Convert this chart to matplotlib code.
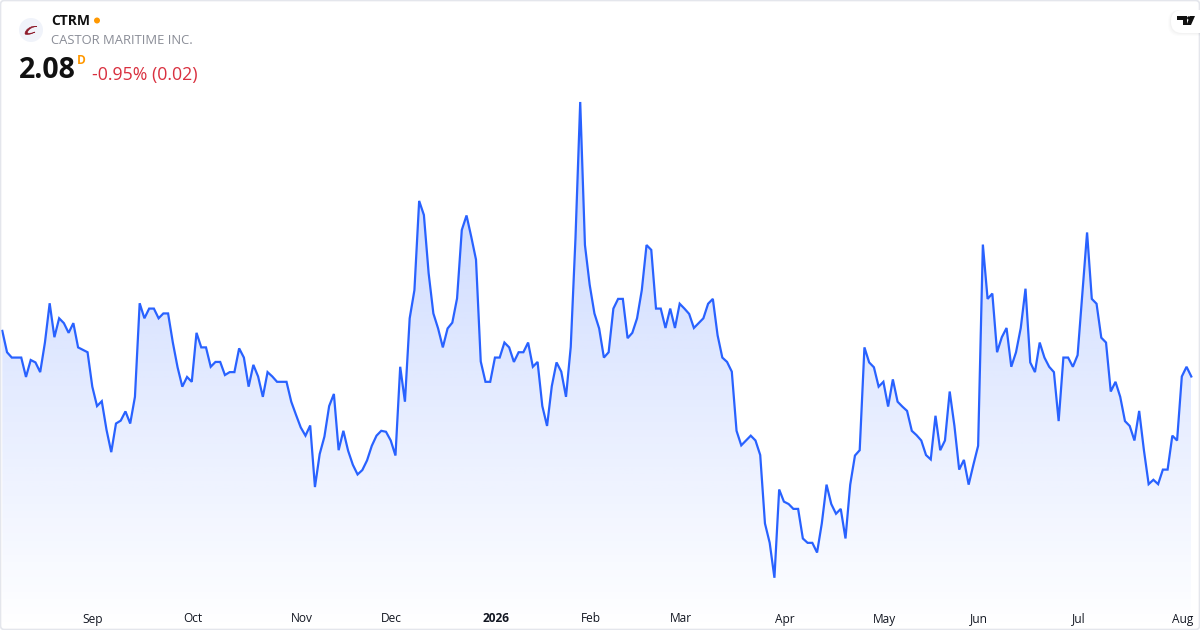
import numpy as np
import matplotlib
matplotlib.use('Agg')
import matplotlib.pyplot as plt
from matplotlib.patches import Circle, FancyBboxPatch, PathPatch, Polygon
from matplotlib.path import Path

plt.rcParams['font.family'] = ['Open Sans', 'DejaVu Sans']

symbol = 'CTRM'
company = 'CASTOR MARITIME INC.'
last_price = '2.08'
change_text = '-0.95% (0.02)'

# daily closes
close = [
    2.173, 2.129, 2.118, 2.118, 2.118, 2.078, 2.113, 2.108, 2.088, 2.149,
    2.230, 2.160, 2.199, 2.189, 2.169, 2.189, 2.139, 2.134, 2.129, 2.058,
    2.018, 2.028, 1.969, 1.923, 1.982, 1.988, 2.007, 1.982, 2.037, 2.230,
    2.199, 2.219, 2.219, 2.199, 2.209, 2.209, 2.149, 2.098, 2.058, 2.078,
    2.068, 2.169, 2.139, 2.139, 2.099, 2.109, 2.109, 2.082, 2.088, 2.088,
    2.137, 2.118, 2.058, 2.103, 2.079, 2.037, 2.088, 2.079, 2.068, 2.068,
    2.068, 2.027, 2.000, 1.974, 1.957, 1.978, 1.851, 1.919, 1.955, 2.018,
    2.043, 1.927, 1.967, 1.926, 1.897, 1.877, 1.886, 1.906, 1.936, 1.957,
    1.967, 1.965, 1.947, 1.916,
    2.099, 2.027, 2.199, 2.257, 2.441, 2.412, 2.292, 2.209, 2.178, 2.139,
    2.178, 2.190, 2.240, 2.381, 2.411, 2.367, 2.320, 2.110, 2.068, 2.068,
    2.118, 2.118, 2.149, 2.139, 2.109, 2.129, 2.129, 2.149, 2.099, 2.109,
    2.018, 1.977, 2.059, 2.108, 2.089, 2.037, 2.140, 2.364, 2.645, 2.350,
    2.268, 2.209, 2.178, 2.118, 2.129, 2.219, 2.239, 2.239, 2.158, 2.169,
    2.199, 2.257, 2.350, 2.340, 2.219, 2.219, 2.179, 2.219, 2.179, 2.229,
    2.219, 2.208, 2.179, 2.189, 2.199, 2.229, 2.239, 2.164, 2.118, 2.109,
    2.089, 1.967, 1.937, 1.947, 1.957, 1.947, 1.917,
    1.776, 1.736, 1.664, 1.846, 1.821, 1.816, 1.806, 1.806, 1.745, 1.736,
    1.736, 1.716, 1.776, 1.856, 1.816, 1.796, 1.806, 1.745, 1.856, 1.916,
    1.927, 2.139, 2.108, 2.098, 2.058, 2.068, 2.017, 2.073, 2.027, 2.017,
    2.008, 1.967, 1.958, 1.947, 1.917, 1.908, 1.998, 1.927, 1.947, 2.048,
    1.977, 1.887, 1.907, 1.856,
    1.897, 1.936, 2.351, 2.239, 2.250, 2.129, 2.160, 2.179, 2.099, 2.129,
    2.179, 2.260, 2.108, 2.088, 2.149, 2.118, 2.099, 2.088, 1.987, 2.118,
    2.118, 2.099, 2.123, 2.249, 2.376, 2.239, 2.229, 2.159, 2.149, 2.048,
    2.068, 2.037, 1.987, 1.977, 1.947, 2.008, 1.927, 1.857, 1.866, 1.857,
    1.887, 1.887, 1.957, 1.947, 2.079, 2.099, 2.079,
]
month_labels = ['Sep', 'Oct', 'Nov', 'Dec', '2026', 'Feb', 'Mar', 'Apr', 'May', 'Jun', 'Jul', 'Aug']
month_pos = [19, 40, 63, 82, 104, 124, 143, 165, 186, 206, 227, 249]

W, H = 1200, 630
x0, dx = 2.3, 4.737
# price scale: 2.08 sits at y=376, 0.01 is 4.85 px
y_top = 2.08 + 376 / 485
y_bot = 2.08 - (H - 376) / 485

fig = plt.figure(figsize=(W / 100, H / 100), dpi=100, facecolor='white')
ax = fig.add_axes([0, 0, 1, 1])
ax.set_xlim(-x0 / dx, (W - x0) / dx)
ax.set_ylim(y_bot, y_top)
ax.axis('off')

xs = np.arange(len(close))
line_color = '#2962FF'

# vertical gradient under the line
grad = np.zeros((256, 2, 4))
grad[:, :, 0] = 0x29 / 255
grad[:, :, 1] = 0x62 / 255
grad[:, :, 2] = 1.0
grad[:, :, 3] = np.linspace(0.28, 0.0, 256)[:, None]
im = ax.imshow(grad, extent=[xs[0], xs[-1], y_bot, max(close)], origin='upper',
               aspect='auto', zorder=1)
fill = ax.fill_between(xs, close, y_bot, color='none', zorder=1)
im.set_clip_path(fill.get_paths()[0], transform=ax.transData)
ax.set_xlim(-x0 / dx, (W - x0) / dx)
ax.set_ylim(y_bot, y_top)

ax.plot(xs, close, color=line_color, lw=1.6, zorder=2, solid_joinstyle='miter')

# month labels along the bottom
for pos, lab in zip(month_pos, month_labels):
    ax.annotate(lab, (pos, y_bot), xytext=(0.8, 11), textcoords='offset pixels',
                ha='center', va='center', fontsize=8.6, color='#131722',
                fontweight='bold' if lab == '2026' else 'normal')

# overlay in pixel coords for header, logo and card border
ov = fig.add_axes([0, 0, 1, 1], facecolor='none')
ov.set_xlim(0, W)
ov.set_ylim(H, 0)
ov.axis('off')

ov.add_patch(FancyBboxPatch((0.5, 0.5), W - 1, H - 1, boxstyle='round,pad=0,rounding_size=4',
                            fc='none', ec='#e4e6ec', lw=1.2, zorder=5))

# company logo
ov.add_patch(Circle((31, 30), 12, fc='#f0f3fa', ec='none', zorder=6))
swoosh = Path([(37, 26.5), (31, 25), (25, 30), (25, 33.5), (25, 35.5), (31, 34.5), (35, 32),
               (31, 33.5), (27.5, 34), (27.5, 32.5), (27.5, 30), (32, 26.5), (37, 26.5)],
              [Path.MOVETO, Path.CURVE4, Path.CURVE4, Path.CURVE4, Path.CURVE4, Path.CURVE4, Path.CURVE4,
               Path.CURVE4, Path.CURVE4, Path.CURVE4, Path.CURVE4, Path.CURVE4, Path.CURVE4])
ov.add_patch(PathPatch(swoosh, fc='#8e1b2b', ec='#8e1b2b', lw=0.4, zorder=7))

ov.text(51, 21, symbol, fontsize=10, fontweight='bold', color='#111111', va='center', zorder=7)
ov.add_patch(Circle((97, 20.5), 3, fc='#ff9800', ec='none', zorder=7))
ov.text(51, 40.5, company, fontsize=9.4, color='#8a8d97', va='center', zorder=7)
ov.text(19, 71, last_price, fontsize=20.5, fontweight='bold', color='#111111', va='center', zorder=7)
ov.text(77, 61, 'D', fontsize=8.6, fontweight='bold', color='#ff9800', va='center', zorder=7)
ov.text(92, 75, change_text, fontsize=12.8, color='#d9303f', va='center', zorder=7)

# TradingView badge, top right
for off, a in [(3, 0.012), (2, 0.015), (1, 0.02)]:
    ov.add_patch(FancyBboxPatch((1171 - off, 10), 40 + off, 23 + off, boxstyle='round,pad=0,rounding_size=11',
                                fc='black', alpha=a, ec='none', zorder=8))
ov.add_patch(FancyBboxPatch((1171, 10), 40, 23, boxstyle='round,pad=0,rounding_size=11',
                            fc='white', ec='none', zorder=9))
ov.add_patch(Polygon([(1177, 16), (1187, 16), (1187, 25), (1182.5, 25), (1182.5, 20), (1177, 20)],
                     fc='#111111', ec='none', zorder=10))
ov.add_patch(Polygon([(1190, 16), (1195, 16), (1191, 25), (1186.5, 25)], fc='#111111', ec='none', zorder=10))
ov.add_patch(Circle((1188.8, 18), 1.7, fc='#111111', ec='none', zorder=10))

fig.savefig('out.png', dpi=100)
